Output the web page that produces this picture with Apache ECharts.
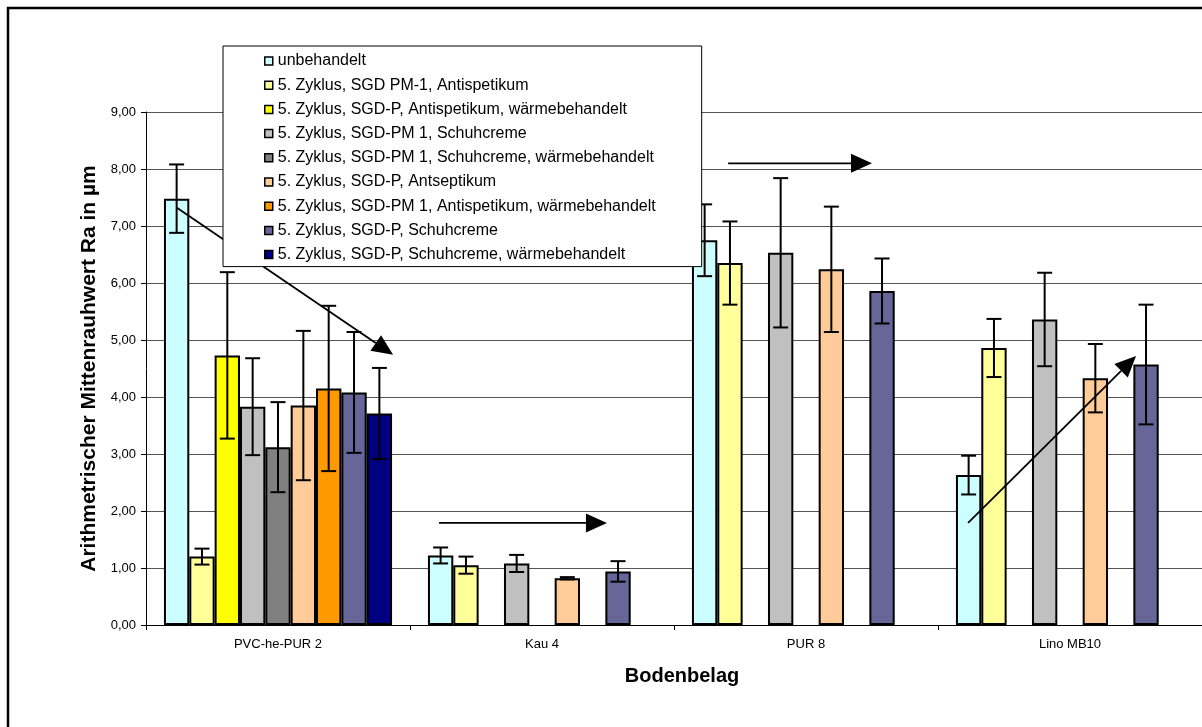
<!DOCTYPE html>
<html>
<head>
<meta charset="utf-8">
<title>Arithmetrischer Mittenrauhwert Ra</title>
<script src="https://cdn.jsdelivr.net/npm/echarts@6/dist/echarts.min.js"></script>
<style>
  html, body { margin: 0; padding: 0; background: #fff; }
  #chart { width: 1202px; height: 727px; }
</style>
</head>
<body>
<div id="chart"></div>
<script>
// Floor coverings on the category axis
const categories = ['PVC-he-PUR 2', 'Kau 4', 'PUR 8', 'Lino MB10'];

// Series names (legend order)
const seriesNames = [
  'unbehandelt',
  '5. Zyklus, SGD PM-1, Antispetikum',
  '5. Zyklus, SGD-P, Antispetikum, wärmebehandelt',
  '5. Zyklus, SGD-PM 1, Schuhcreme',
  '5. Zyklus, SGD-PM 1, Schuhcreme, wärmebehandelt',
  '5. Zyklus, SGD-P, Antseptikum',
  '5. Zyklus, SGD-PM 1, Antispetikum, wärmebehandelt',
  '5. Zyklus, SGD-P, Schuhcreme',
  '5. Zyklus, SGD-P, Schuhcreme, wärmebehandelt'
];
const seriesColors = ['#CCFFFF', '#FFFF99', '#FFFF00', '#C0C0C0', '#808080',
                      '#FFCC99', '#FF9900', '#666699', '#000080'];

// Mean roughness Ra in µm per floor covering
const unbehandelt            = [7.48, 1.22, 6.75, 2.63];
const pm1Antiseptikum        = [1.20, 1.05, 6.35, 4.86];
const pAntiseptikumWaerme    = [4.73, null, null, null];
const pm1Schuhcreme          = [3.83, 1.08, 6.53, 5.36];
const pm1SchuhcremeWaerme    = [3.12, null, null, null];
const pAntseptikum           = [3.85, 0.82, 6.24, 4.33];
const pm1AntiseptikumWaerme  = [4.15, null, null, null];
const pSchuhcreme            = [4.08, 0.94, 5.86, 4.57];
const pSchuhcremeWaerme      = [3.71, null, null, null];

// Standard deviations (error bars)
const errUnbehandelt           = [0.60, 0.14, 0.63, 0.34];
const errPm1Antiseptikum       = [0.14, 0.15, 0.73, 0.51];
const errPAntiseptikumWaerme   = [1.46, null, null, null];
const errPm1Schuhcreme         = [0.85, 0.15, 1.31, 0.82];
const errPm1SchuhcremeWaerme   = [0.79, null, null, null];
const errPAntseptikum          = [1.31, 0.02, 1.10, 0.60];
const errPm1AntiseptikumWaerme = [1.45, null, null, null];
const errPSchuhcreme           = [1.06, 0.18, 0.57, 1.05];
const errPSchuhcremeWaerme     = [0.80, null, null, null];

// Y-axis ticks
const yTicks = [0, 1, 2, 3, 4, 5, 6, 7, 8, 9];

// Trend arrows: [x1, y1, x2, y2] in (category units from left edge, Ra)
const trendArrows = [
  [0.117, 7.32, 0.936, 4.74],
  [1.110, 1.79, 1.746, 1.79],
  [2.205, 8.10, 2.750, 8.10],
  [3.114, 1.79, 3.750, 4.72]
];

const values = [unbehandelt, pm1Antiseptikum, pAntiseptikumWaerme, pm1Schuhcreme,
  pm1SchuhcremeWaerme, pAntseptikum, pm1AntiseptikumWaerme, pSchuhcreme, pSchuhcremeWaerme];
const errors = [errUnbehandelt, errPm1Antiseptikum, errPAntiseptikumWaerme, errPm1Schuhcreme,
  errPm1SchuhcremeWaerme, errPAntseptikum, errPm1AntiseptikumWaerme, errPSchuhcreme, errPSchuhcremeWaerme];

const CAT_GAP = 0.136;
const FONT = '"Liberation Sans", Arial, sans-serif';

const barSeries = seriesNames.map((name, i) => ({
  name: name,
  type: 'bar',
  data: values[i],
  barGap: '0%',
  barCategoryGap: (CAT_GAP * 100) + '%',
  itemStyle: { color: seriesColors[i], borderColor: '#000', borderWidth: 2 },
  emphasis: { disabled: true },
  z: 2
}));

// Error bar items: [categoryIndex, seriesIndex, value, error]
const errData = [];
values.forEach((arr, s) => arr.forEach((v, c) => {
  if (v != null && errors[s][c] != null) errData.push([c, s, v, errors[s][c]]);
}));

const errorSeries = {
  type: 'custom',
  xAxisIndex: 0, yAxisIndex: 0,
  z: 3,
  silent: true,
  encode: { x: 0, y: 2 },
  data: errData,
  renderItem: function (params, api) {
    const c = api.value(0), s = api.value(1), v = api.value(2), e = api.value(3);
    const band = api.size([1, 0])[0];
    const barW = band * (1 - CAT_GAP) / seriesNames.length;
    const center = api.coord([c, v]);
    const x = center[0] + (s - (seriesNames.length - 1) / 2) * barW;
    const yHi = api.coord([c, v + e])[1];
    const yLo = api.coord([c, v - e])[1];
    const cap = 7.5;
    const st = { stroke: '#000', lineWidth: 2 };
    return {
      type: 'group',
      children: [
        { type: 'line', shape: { x1: x, y1: yHi, x2: x, y2: yLo }, style: st },
        { type: 'line', shape: { x1: x - cap, y1: yHi, x2: x + cap, y2: yHi }, style: st },
        { type: 'line', shape: { x1: x - cap, y1: yLo, x2: x + cap, y2: yLo }, style: st }
      ]
    };
  }
};

const arrowSeries = {
  type: 'custom',
  xAxisIndex: 1, yAxisIndex: 0,
  z: 5,
  silent: true,
  encode: { x: [0, 2], y: [1, 3] },
  data: trendArrows,
  renderItem: function (params, api) {
    const p1 = api.coord([api.value(0), api.value(1)]);
    const p2 = api.coord([api.value(2), api.value(3)]);
    const dx = p2[0] - p1[0], dy = p2[1] - p1[1];
    const len = Math.sqrt(dx * dx + dy * dy);
    const ux = dx / len, uy = dy / len;
    const headL = 21, headW = 9.5;
    const bx = p2[0] - ux * headL, by = p2[1] - uy * headL;
    return {
      type: 'group',
      children: [
        { type: 'line', shape: { x1: p1[0], y1: p1[1], x2: bx, y2: by },
          style: { stroke: '#000', lineWidth: 1.8 } },
        { type: 'polygon', shape: { points: [
            [p2[0], p2[1]],
            [bx - uy * headW, by + ux * headW],
            [bx + uy * headW, by - ux * headW]
          ] }, style: { fill: '#000' } }
      ]
    };
  }
};

const chart = echarts.init(document.getElementById('chart'), null, { renderer: 'canvas' });
chart.setOption({
  animation: false,
  backgroundColor: '#fff',
  textStyle: { fontFamily: FONT },
  grid: { left: 146, right: 0, top: 112, bottom: 102, containLabel: false },
  legend: {
    data: seriesNames,
    orient: 'vertical',
    left: 223, top: 46,
    padding: [7, 46, 4, 41],
    itemWidth: 8, itemHeight: 8,
    itemGap: 8.2,
    icon: 'rect',
    itemStyle: { borderColor: '#000', borderWidth: 1.5 },
    textStyle: { fontSize: 16, color: '#000', fontFamily: FONT, lineHeight: 16 },
    backgroundColor: '#fff',
    borderColor: '#000',
    borderWidth: 1,
    selectedMode: false,
    z: 10
  },
  xAxis: [{
    type: 'category',
    data: categories,
    name: 'Bodenbelag',
    nameLocation: 'middle',
    nameGap: 41,
    nameTextStyle: { fontSize: 20, fontWeight: 'bold', color: '#000', fontFamily: FONT, padding: [0, 0, 0, 16] },
    axisLine: { lineStyle: { color: '#000', width: 1 } },
    axisTick: { show: true, alignWithLabel: false, length: 5, lineStyle: { color: '#000' } },
    axisLabel: { fontSize: 13, color: '#000', margin: 13, fontFamily: FONT },
    splitLine: { show: false }
  }, {
    type: 'value', min: 0, max: categories.length, show: false
  }],
  yAxis: {
    type: 'value',
    min: yTicks[0], max: yTicks[yTicks.length - 1], interval: 1,
    name: 'Arithmetrischer Mittenrauhwert Ra in µm',
    nameLocation: 'middle',
    nameGap: 44,
    nameRotate: 90,
    nameTextStyle: { fontSize: 21, fontWeight: 'bold', color: '#000', fontFamily: FONT },
    axisLine: { show: true, lineStyle: { color: '#000', width: 1 } },
    axisTick: { show: true, length: 5, lineStyle: { color: '#000' } },
    axisLabel: {
      fontSize: 13, color: '#000', margin: 10, fontFamily: FONT,
      formatter: v => v.toFixed(2).replace('.', ',')
    },
    splitLine: { show: true, lineStyle: { color: '#555', width: 1 } }
  },
  graphic: [{
    type: 'rect',
    shape: { x: 8, y: 8, width: 1300, height: 800 },
    style: { fill: 'none', stroke: '#000', lineWidth: 2.5 },
    silent: true,
    z: 100
  }],
  series: barSeries.concat([errorSeries, arrowSeries])
});
</script>
</body>
</html>
